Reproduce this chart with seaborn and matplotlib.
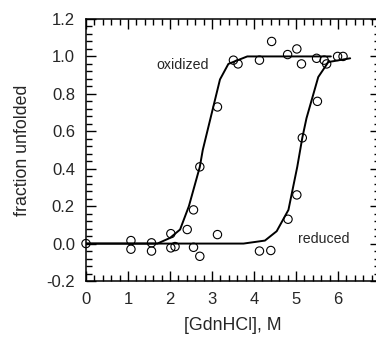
import matplotlib
matplotlib.use("Agg")
import matplotlib.pyplot as plt
from matplotlib.ticker import MultipleLocator
import pandas as pd
import seaborn as sns

# data points
OX_X = [0.0, 1.07, 1.56, 2.02, 2.41, 2.56, 2.71, 3.13, 3.51, 3.62, 4.13, 4.42, 4.80, 5.02, 5.13, 5.49, 5.67]
OX_Y = [0.0, 0.016, 0.004, 0.053, 0.075, 0.18, 0.41, 0.73, 0.98, 0.96, 0.98, 1.08, 1.01, 1.04, 0.96, 0.99, 0.98]
RED_X = [1.07, 1.56, 2.02, 2.12, 2.56, 2.71, 3.13, 4.13, 4.40, 4.81, 5.02, 5.15, 5.51, 5.73, 5.99, 6.12]
RED_Y = [-0.03, -0.04, -0.023, -0.016, -0.02, -0.068, 0.048, -0.04, -0.037, 0.13, 0.26, 0.565, 0.76, 0.96, 1.0, 1.0]

# fitted curves (traced)
OX_FIT_X = [0.0, 1.7, 2.0, 2.24, 2.45, 2.71, 2.78, 3.19, 3.39, 3.84, 5.83]
OX_FIT_Y = [0.0, 0.0, 0.03, 0.075, 0.2, 0.41, 0.5, 0.877, 0.96, 1.0, 1.0]
RED_FIT_X = [0.0, 3.75, 4.26, 4.54, 4.82, 5.03, 5.15, 5.25, 5.53, 5.77, 6.29]
RED_FIT_Y = [0.0, 0.0, 0.016, 0.066, 0.18, 0.41, 0.565, 0.67, 0.89, 0.97, 0.99]

sns.set_theme(style="ticks")
plt.rcParams["font.family"] = ["Liberation Sans", "DejaVu Sans"]

fig = plt.figure(figsize=(3.76, 3.41), dpi=100)
ax = fig.add_axes([86 / 376, 1 - 281 / 341, 294 / 376, 262 / 341])

for fx, fy in [(OX_FIT_X, OX_FIT_Y), (RED_FIT_X, RED_FIT_Y)]:
    sns.lineplot(x=fx, y=fy, sort=False, color="black", linewidth=1.4, ax=ax, estimator=None)

pts = pd.DataFrame({"x": OX_X + RED_X, "y": OX_Y + RED_Y})
sns.scatterplot(data=pts, x="x", y="y", ax=ax, s=36, facecolor="none",
                edgecolor="black", linewidth=0.8, zorder=3)
for c in ax.collections:
    c.set_clip_on(False)

ax.text(1.68, 0.955, "oxidized", fontsize=10.2, va="center", ha="left")
ax.text(5.05, 0.025, "reduced", fontsize=10.2, va="center", ha="left")

ax.set_xlim(0, 7)
ax.set_ylim(-0.2, 1.2)
ax.xaxis.set_minor_locator(MultipleLocator(0.2))
ax.yaxis.set_minor_locator(MultipleLocator(0.04))
ax.set_xticks(range(0, 7))
ax.set_xticklabels([str(i) for i in range(0, 7)])
ax.set_yticks([-0.2, 0.0, 0.2, 0.4, 0.6, 0.8, 1.0, 1.2])
ax.set_yticklabels(["-0.2", "0.0", "0.2", "0.4", "0.6", "0.8", "1.0", "1.2"])

ax.tick_params(which="both", direction="in", top=True, right=True, color="black", width=1.0)
ax.tick_params(which="major", length=7.5, labelsize=12, pad=8)
ax.tick_params(which="minor", length=4)
for sp in ax.spines.values():
    sp.set_linewidth(1.1)
    sp.set_color("black")

ax.set_xlabel("[GdnHCl], M", fontsize=12.8, labelpad=7)
ax.set_ylabel("fraction unfolded", fontsize=12.8, labelpad=11)

fig.savefig("out.png", dpi=100)
